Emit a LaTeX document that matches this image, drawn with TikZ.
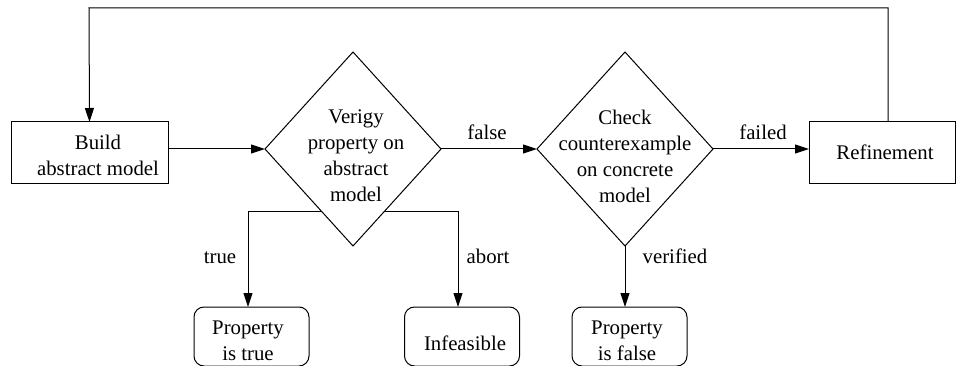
\documentclass[tikz,border=0pt]{standalone}
\usepackage{fontspec}
\setmainfont{Liberation Serif}
\newfontfamily\diagfont{Liberation Serif}
\usetikzlibrary{shapes.geometric,arrows.meta,calc}
\begin{document}
\begin{tikzpicture}[x=1pt,y=-1pt,line width=1pt,
  txt/.style={font=\diagfont\fontsize{20.8}{26}\selectfont,inner sep=0pt,align=center},
  lbl/.style={font=\diagfont\fontsize{20.8}{26}\selectfont,inner sep=0pt,anchor=base},
  sqbox/.style={draw,rectangle,inner sep=0pt,outer sep=0pt},
  rbox/.style={draw,rectangle,rounded corners=10pt,inner sep=0pt,outer sep=0pt,minimum width=115pt,minimum height=59pt},
  dia/.style={draw,diamond,inner sep=0pt,outer sep=0pt,minimum width=176pt,minimum height=194pt},
  arr/.style={-{Triangle[length=14pt,width=9pt]}}]
\useasboundingbox (0,0) rectangle (956,366);
% boxes
\node[sqbox,minimum width=157pt,minimum height=62pt] (build) at (89.5,153) {};
\node[txt] (buildt) at (98,155) {Build\hspace{24pt}\\abstract model};
\node[dia] (d1) at (353,149) {};
\node[txt] (d1t) at (356,156) {Verigy\\property on\\abstract\\model};
\node[dia] (d2) at (625,149) {};
\node[txt] (d2t) at (625,156) {Check\\counterexample\\on concrete\\model};
\node[sqbox,minimum width=146pt,minimum height=62pt] (ref) at (882,153) {};
\node[txt] (reft) at (885,152) {Refinement};
\node[rbox] (ptrue) at (251.5,336.5) {};
\node[txt] (ptruet) at (248,340.5) {Property\\is true};
\node[rbox] (infe) at (462,336.5) {};
\node[txt] (infet) at (465,343) {Infeasible};
\node[rbox] (pfalse) at (629.5,336.5) {};
\node[txt] (pfalset) at (627,340.5) {Property\\is false};
% connectors
\coordinate (top) at (89,8);
\draw[arr] (d1.west -| build.east) -- (d1.west);
\draw[arr] (d1.east) -- (d2.west);
\draw[arr] (d2.east) -- (d2.east -| ref.west);
\draw[arr] ([xshift=6pt]ref.north) |- (top) -- (build.north);
\draw[arr] ($(d1.west)!0.64!(d1.south)$) -| ([xshift=-3.5pt]ptrue.north);
\draw[arr] ($(d1.east)!0.64!(d1.south)$) -| ([xshift=-4pt]infe.north);
\draw[arr] (d2.south) -- (d2.south |- pfalse.north);
% labels
\node[lbl] (lfalse) at (487,140) {false};
\node[lbl] (lfailed) at (763,140) {failed};
\node[lbl] (ltrue) at (220,263) {true};
\node[lbl] (labort) at (488,263) {abort};
\node[lbl] (lver) at (675,263) {verified};
\end{tikzpicture}
\end{document}
